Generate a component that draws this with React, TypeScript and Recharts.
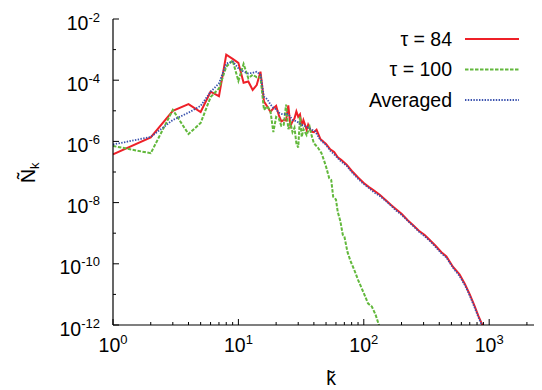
import React from "react";
import { LineChart, Line, XAxis, YAxis, Legend } from "recharts";

// ---- data ----
const kTau84 = [1,2,3,4,5,6,7,8,9,10,11,12,13,14,15,16,17,18,19,20,21,22,23,24,25,26,27,28,29,30,31,32,33,34,35,36,38,40,42,45,48,50,54,58,62,66,73,80,90,100,110,120,134,150,165,182,200,225,250,275,306,336,375,416,456,515,580,640,700,760,820,883,930];
const nTau84 = [3.8e-7,1.35e-6,1.0e-5,1.66e-5,9.1e-6,4.2e-5,3.0e-5,6.8e-4,5.0e-4,3.7e-4,8.3e-5,9.1e-5,4.8e-5,6.9e-5,1.9e-4,2.0e-5,1.38e-5,9.3e-6,1.2e-5,1.45e-5,7.2e-6,4.5e-6,5.0e-6,4.8e-6,1.5e-5,3.2e-6,4.5e-6,5.6e-6,9.5e-6,6.3e-6,7.6e-6,3.2e-6,5.0e-6,3.5e-6,2.4e-6,3.5e-6,2.1e-6,2.0e-6,2.4e-6,1.2e-6,9.5e-7,8.3e-7,5.5e-7,4.5e-7,3.0e-7,2.5e-7,1.74e-7,1.1e-7,6.6e-8,4.4e-8,3.2e-8,2.5e-8,1.8e-8,1.2e-8,8.3e-9,5.9e-9,4.3e-9,2.6e-9,1.74e-9,1.2e-9,8.7e-10,6.0e-10,3.8e-10,2.4e-10,1.74e-10,7.9e-11,4.5e-11,2.2e-11,1.0e-11,4.5e-12,2.0e-12,1.0e-12,4.5e-13];

const kTau100 = [1,2,3,4,5,6,7,8,9,10,11,12,13,14,15,16,17,18,19,20,21,22,23,24,25,26,27,28,29,30,31,32,33,35,37,38,40,43,46,48,50,53,55,57,60,62,65,68,70,74,78,84,90,100,108,116,124,132,138];
const nTau100 = [7.1e-7,4.1e-7,1.07e-5,1.74e-6,4.0e-6,2.8e-5,5.4e-5,2.75e-4,4.4e-4,9.5e-5,3.4e-4,1.15e-4,1.5e-4,1.26e-4,1.26e-4,1.07e-5,1.4e-5,1.0e-5,2.0e-6,6.3e-6,5.6e-6,3.2e-6,3.5e-6,1.6e-5,2.5e-6,4.0e-6,2.0e-6,2.8e-6,8.7e-7,6.3e-7,6.5e-6,1.4e-6,2.5e-6,1.6e-6,3.0e-6,1.8e-6,8.7e-7,6.3e-7,4.1e-7,2.5e-7,1.5e-7,6.3e-8,5.5e-8,1.55e-8,1.26e-8,5.0e-9,2.5e-9,8.9e-10,7.9e-10,2.5e-10,1.3e-10,6.3e-11,3.0e-11,1.1e-11,5.1e-12,4.0e-12,2.2e-12,1.0e-12,4.5e-13];

const kAvg = [1,2,3,4,5,6,7,8,9,10,11,12,13,14,15,16,17,18,19,20,21,22,23,24,25,26,27,28,29,30,32,35,38,41,45,50,54,60,66,73,80,90,100,110,120,134,150,165,182,200,225,250,275,306,336,375,416,456,515,580,640,700,760,820,880,930];
const nAvg = [7.9e-7,1.4e-6,5.0e-6,8.7e-6,1.45e-5,4.2e-5,7.9e-5,3.5e-4,4.1e-4,2.45e-4,1.9e-4,1.66e-4,1.74e-4,1.9e-4,1.5e-4,2.9e-5,2.4e-5,1.6e-5,1.26e-5,1.12e-5,8.7e-6,7.9e-6,7.6e-6,7.9e-6,7.9e-6,6.3e-6,5.0e-6,4.8e-6,4.5e-6,4.2e-6,3.5e-6,3.0e-6,2.5e-6,2.1e-6,1.12e-6,7.6e-7,5.0e-7,3.3e-7,2.2e-7,1.6e-7,1.0e-7,6.0e-8,4.0e-8,3.0e-8,2.2e-8,1.66e-8,1.12e-8,7.9e-9,5.4e-9,4.0e-9,2.5e-9,1.66e-9,1.12e-9,7.9e-10,5.6e-10,3.5e-10,2.2e-10,1.6e-10,7.4e-11,4.0e-11,2.0e-11,9.1e-12,4.0e-12,1.8e-12,9.3e-13,4.5e-13];

const seriesNames = ["τ = 84", "τ = 100", "Averaged"];

const xTicks = [1,2,3,4,5,6,7,8,9,10,20,30,40,50,60,70,80,90,100,200,300,400,500,600,700,800,900,1000,2000,3000];
const yTicks = [1e-12,1e-11,1e-10,1e-9,1e-8,1e-7,1e-6,1e-5,1e-4,1e-3,1e-2];
const xDomain = [1, 3000];
const yDomain = [1e-12, 1e-2];

// ---- styles ----
const FONT = "'Liberation Sans', Arial, Helvetica, sans-serif";
const STYLES: Record<string, { color: string; width: number; dash?: string }> = {
  "τ = 84": { color: "#ee2028", width: 2 },
  "τ = 100": { color: "#62b83c", width: 2, dash: "3.5 1.5" },
  "Averaged": { color: "#3a52ae", width: 1.8, dash: "1.4 1.4" },
};

const toData = (ks: number[], ns: number[]) => ks.map((k, i) => ({ k, n: ns[i] }));
const dTau84 = toData(kTau84, nTau84);
const dTau100 = toData(kTau100, nTau100);
const dAvg = toData(kAvg, nAvg);

const lg = (v: number) => Math.log10(v);
const isDecade = (v: number) => Math.abs(lg(v) - Math.round(lg(v))) < 1e-6;
const expOf = (v: number) => String(Math.round(lg(v)));

const Pow = ({ x, y, v, anchor }: any) => (
  <text x={x} y={y} textAnchor={anchor} fontFamily={FONT} fontSize={19.5} fill="#000">
    <tspan>10</tspan>
    <tspan dy={-8} fontSize={13}>{expOf(v)}</tspan>
  </text>
);

const BottomTick = (p: any) => {
  const { x, y, payload } = p;
  const major = isDecade(payload.value);
  return (
    <g>
      <line x1={x} x2={x} y1={y} y2={y - (major ? 6 : 3)} stroke="#000" />
      {major && <Pow x={x} y={y + 27} v={payload.value} anchor="middle" />}
    </g>
  );
};
const TopTick = (p: any) => {
  const { x, y, payload } = p;
  const major = isDecade(payload.value);
  return <line x1={x} x2={x} y1={y} y2={y + (major ? 6 : 3)} stroke="#000" />;
};
const LeftTick = (p: any) => {
  const { x, y, payload } = p;
  const e = Math.round(lg(payload.value));
  const major = e % 2 === 0;
  return (
    <g>
      <line x1={x} x2={x + (major ? 6 : 3)} y1={y} y2={y} stroke="#000" />
      {major && <Pow x={100} y={y + 10.5} v={payload.value} anchor="end" />}
    </g>
  );
};
const RightTick = (p: any) => {
  const { x, y, payload } = p;
  const e = Math.round(lg(payload.value));
  const major = e % 2 === 0;
  return <line x1={x} x2={x - (major ? 18 : 8)} y1={y} y2={y} stroke="#000" />;
};

const LegendBox = () => (
  <svg width={560} height={130} style={{ display: "block" }}>
    {seriesNames.map((name, i) => {
      const s = STYLES[name];
      const ly = 39 + i * 30.5;
      return (
        <g key={name}>
          <text x={452} y={ly + 6.5} textAnchor="end" fontFamily={FONT} fontSize={19.5} fill="#000">
            {name}
          </text>
          <line x1={465} x2={519} y1={ly} y2={ly} stroke={s.color} strokeWidth={s.width} strokeDasharray={s.dash} />
        </g>
      );
    })}
  </svg>
);

export default function App() {
  const series = [dTau84, dTau100, dAvg];
  return (
    <div style={{ marginLeft: -8, marginTop: -8, width: 542, height: 390, overflow: "hidden", position: "relative", background: "#fff" }}>
      <LineChart width={560} height={390} margin={{ top: 19, right: 11, left: 0, bottom: 0 }}>
        <XAxis
          xAxisId="b"
          dataKey="k"
          type="number"
          scale="log"
          domain={xDomain}
          allowDataOverflow
          ticks={xTicks}
          interval={0}
          tickSize={0}
          tickMargin={0}
          height={65}
          axisLine={{ stroke: "#000", strokeWidth: 1.2 }}
          tick={<BottomTick />}
          label={{
            content: () => (
              <text x={331} y={385} textAnchor="middle" fontFamily={FONT} fontSize={19.5} fill="#000">
                {"k\u0303"}
              </text>
            ),
          }}
        />
        <XAxis
          xAxisId="t"
          orientation="top"
          dataKey="k"
          type="number"
          scale="log"
          domain={xDomain}
          allowDataOverflow
          ticks={xTicks}
          interval={0}
          tickSize={0}
          tickMargin={0}
          height={0}
          axisLine={{ stroke: "#000", strokeWidth: 1.2 }}
          tick={<TopTick />}
        />
        <YAxis
          yAxisId="l"
          type="number"
          scale="log"
          domain={yDomain}
          allowDataOverflow
          ticks={yTicks}
          interval={0}
          tickSize={0}
          tickMargin={0}
          width={113}
          axisLine={{ stroke: "#000", strokeWidth: 1.2 }}
          tick={<LeftTick />}
          label={{
            content: () => (
              <text
                x={35}
                y={183}
                transform="rotate(-90, 35, 183)"
                textAnchor="start"
                fontFamily={FONT}
                fontSize={19.5}
                fill="#000"
              >
                <tspan>Ñ</tspan>
                <tspan dy={4} fontSize={13}>k</tspan>
              </text>
            ),
          }}
        />
        <YAxis
          yAxisId="r"
          orientation="right"
          type="number"
          scale="log"
          domain={yDomain}
          allowDataOverflow
          ticks={yTicks}
          interval={0}
          tickSize={0}
          tickMargin={0}
          width={0}
          axisLine={{ stroke: "#000", strokeWidth: 1.2 }}
          tick={<RightTick />}
        />
        {seriesNames.map((name, i) => {
          const s = STYLES[name];
          return (
            <Line
              key={name}
              name={name}
              data={series[i]}
              dataKey="n"
              xAxisId="b"
              yAxisId="l"
              type="linear"
              stroke={s.color}
              strokeWidth={s.width}
              strokeDasharray={s.dash}
              dot={false}
              activeDot={false}
              isAnimationActive={false}
            />
          );
        })}
        <Legend
          layout="horizontal"
          verticalAlign="middle"
          align="center"
          wrapperStyle={{ left: 0, top: 0, width: 560, height: 130 }}
          content={() => <LegendBox />}
        />
      </LineChart>
    </div>
  );
}
